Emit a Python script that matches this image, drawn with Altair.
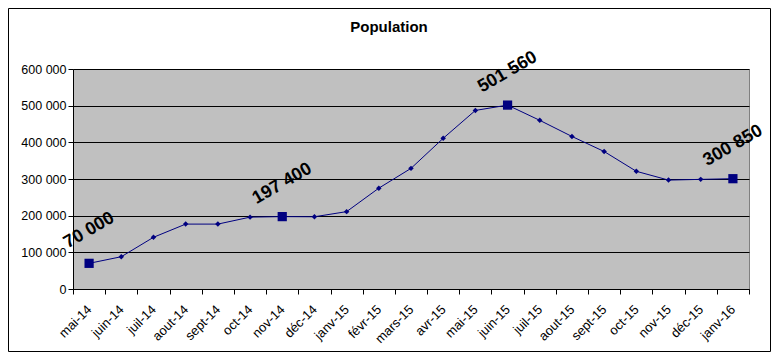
import altair as alt
import pandas as pd

months = ["mai-14", "juin-14", "juil-14", "aout-14", "sept-14", "oct-14", "nov-14",
          "déc-14", "janv-15", "févr-15", "mars-15", "avr-15", "mai-15", "juin-15",
          "juil-15", "aout-15", "sept-15", "oct-15", "nov-15", "déc-15", "janv-16"]
population = [70000, 88000, 141000, 177000, 177000, 196000, 197400,
              197000, 211000, 275000, 329000, 411000, 487000, 501560,
              460000, 416000, 375000, 321000, 297000, 299000, 300850]
highlighted = ["mai-14", "nov-14", "juin-15", "janv-16"]
y_ticks = [0, 100000, 200000, 300000, 400000, 500000, 600000]

df = pd.DataFrame({"mois": months, "population": population})
df["highlight"] = df["mois"].isin(highlighted)
df["label"] = df["population"].map(lambda v: f"{v:,}".replace(",", " "))

FONT = "Liberation Sans"
NAVY = "#000080"

x_enc = alt.X("mois:N", sort=months, title=None,
              scale=alt.Scale(paddingInner=0, paddingOuter=0),
              axis=alt.Axis(labelAngle=315, labelAlign="right", labelBaseline="middle",
                            labelFont=FONT, labelFontSize=13, labelColor="black",
                            labelPadding=13, tickBand="extent", tickColor="black",
                            tickSize=5, domainColor="black", grid=False))
y_enc = alt.Y("population:Q", title=None,
              scale=alt.Scale(domain=[0, 600000], nice=False),
              axis=alt.Axis(values=y_ticks, grid=True, gridColor="black", gridWidth=1,
                            gridOpacity=1, domainColor="black", tickColor="black",
                            tickSize=5, labelFont=FONT, labelFontSize=12.5,
                            labelColor="black", labelPadding=2,
                            labelExpr="replace(format(datum.value, ','), ',', ' ')"))

base = alt.Chart(df).encode(x=x_enc, y=y_enc)

line = base.mark_line(color=NAVY, strokeWidth=1)
diamonds = base.transform_filter("!datum.highlight").mark_point(
    shape="diamond", filled=True, size=30, color=NAVY, opacity=1)
squares = base.transform_filter("datum.highlight").mark_square(
    size=85, color=NAVY, opacity=1)
labels = base.transform_filter("datum.highlight").mark_text(
    angle=330, align="center", baseline="middle", font=FONT, fontSize=18,
    fontWeight="bold", color="black", dx=16.5, dy=-28.6).encode(text="label:N")

one = pd.DataFrame({"t": ["Population"]})
title = alt.Chart(one).mark_text(font=FONT, fontSize=15, fontWeight="bold",
                                 color="black", align="center", baseline="middle").encode(
    text="t:N", x=alt.value(316), y=alt.value(-42))
border = alt.Chart(one).mark_rect(fill=None, stroke="black", strokeWidth=1).encode(
    x=alt.value(-64.5), x2=alt.value(697.5), y=alt.value(-60.5), y2=alt.value(282.5))

chart = alt.layer(line, diamonds, squares, labels, title, border).properties(
    width=676, height=220,
    autosize=alt.AutoSizeParams(type="none"),
    padding={"left": 65, "top": 61, "right": 22, "bottom": 63},
    background="white",
).configure_view(fill="#C0C0C0", stroke="#808080", strokeWidth=1)

chart.save("out.html", embed_options={"renderer": "svg", "actions": False})
